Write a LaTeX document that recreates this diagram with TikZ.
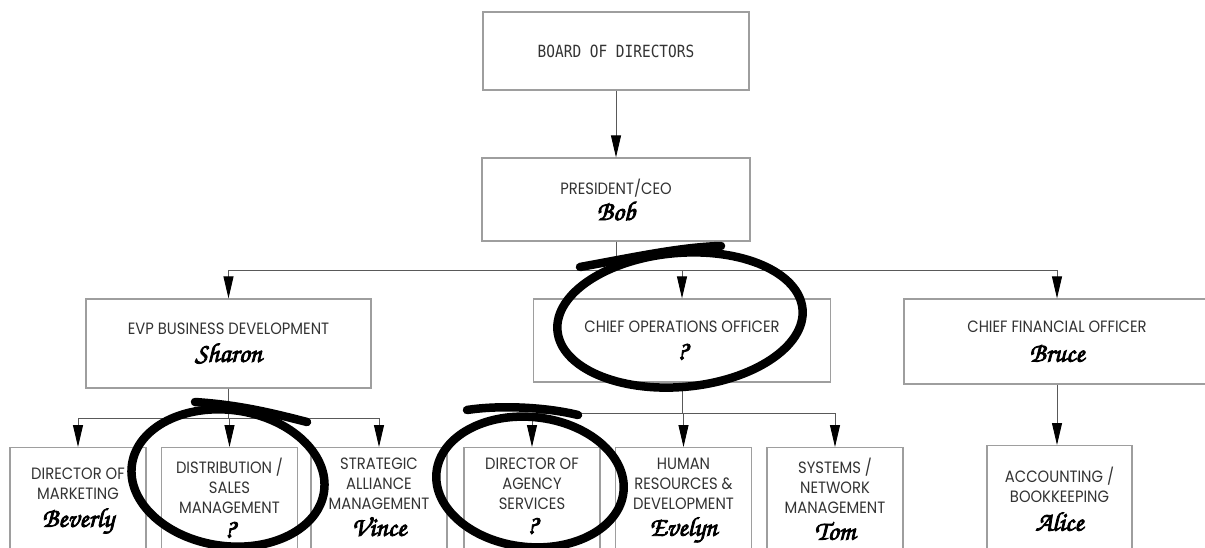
\documentclass[tikz,border=0pt]{standalone}
\usepackage[T1,TU]{fontenc}
\usepackage{fontspec}
\newfontfamily\orgfont{Poppins}[FakeStretch=0.9]
\newfontfamily\boardfont{DejaVu Sans Mono}[FakeStretch=0.86]
\newcommand{\namefont}{\fontencoding{T1}\fontfamily{pzc}\fontseries{mb}\fontshape{it}\fontsize{27}{27}\selectfont}
\usetikzlibrary{arrows.meta}
\definecolor{boxgray}{gray}{0.62}
\definecolor{linkgray}{gray}{0.35}
\definecolor{textgray}{gray}{0.2}
\tikzset{
  unit/.style={draw=boxgray, line width=1.2pt, inner sep=0pt, align=center,
    text=textgray, font=\orgfont\fontsize{16.4}{20}\selectfont},
  leaf/.style={draw=boxgray, line width=1.2pt, minimum width=136pt,
    minimum height=118pt, anchor=north},
  leaftext/.style={inner sep=0pt, anchor=north, align=center,
    text=textgray, font=\orgfont\fontsize{16.4}{20}\selectfont},
  link/.style={draw=linkgray, line width=0.9pt},
  drop/.style={link, -{Triangle[length=22pt,width=10pt,color=black]}},
  pen/.style={black, line width=8.5pt, line cap=round, line join=round},
}
% names in a heavier script: glyphs filled and outlined
\newcommand{\who}[1]{{\namefont\color{black}\special{pdf:literal direct 2 Tr 0.8 w}#1\special{pdf:literal direct 0 Tr}}}
\begin{document}
\begin{tikzpicture}[x=1pt, y=-1pt]
    \fill[white] (0,0) rectangle (1205,548);
    \clip (0,0) rectangle (1205,548);

    % Top of the chart
    \node[unit, minimum width=266pt, minimum height=78pt, font=\boardfont\fontsize{16.8}{18}\selectfont]
        (board) at (616,51) {BOARD OF DIRECTORS};
    \node[unit, minimum width=268pt, minimum height=83pt]
        (pres) at (616,199.5) {PRESIDENT/CEO\\[3pt]\who{Bob}};

    % Second level
    \node[unit, minimum width=285pt, minimum height=89pt]
        (evp) at (228.5,343.5) {EVP BUSINESS DEVELOPMENT\\[7pt]\who{Sharon}};
    \node[unit, minimum width=297pt, minimum height=83pt]
        (coo) at (682,340.5) {CHIEF OPERATIONS OFFICER\\[7pt]\who{?}};
    \node[unit, minimum width=306pt, minimum height=85pt]
        (cfo) at (1057,341.5) {CHIEF FINANCIAL OFFICER\\[9pt]\who{Bruce}};

    % Third level (boxes run off the bottom edge)
    \node[leaf] (mkt) at (78,447) {};
    \node[leaf] (dist) at (229.5,447) {};
    \node[leaf] (strat) at (379,447) {};
    \node[leaf] (agency) at (532,447) {};
    \node[leaf] (hr) at (683.5,447) {};
    \node[leaf] (sys) at (835,447) {};
    \node[leaf, minimum width=145pt] (acct) at (1059.5,445) {};

    \node[leaftext] (mkt-t) at ([yshift=-21pt]mkt.north)
        {DIRECTOR OF\\MARKETING\\[7pt]\who{Beverly}};
    \node[leaftext] (dist-t) at ([yshift=-11pt]dist.north)
        {DISTRIBUTION /\\SALES\\MANAGEMENT\\[4pt]\who{?}};
    \node[leaftext] (strat-t) at ([yshift=-11pt]strat.north)
        {STRATEGIC\\ALLIANCE\\MANAGEMENT\\[6pt]\who{Vince}};
    \node[leaftext] (agency-t) at ([yshift=-11pt]agency.north)
        {DIRECTOR OF\\AGENCY\\SERVICES\\[4pt]\who{?}};
    \node[leaftext] (hr-t) at ([yshift=-11pt]hr.north)
        {HUMAN\\RESOURCES \&\\DEVELOPMENT\\[6pt]\who{Evelyn}};
    \node[leaftext] (sys-t) at ([yshift=-11pt]sys.north)
        {SYSTEMS /\\NETWORK\\MANAGEMENT\\[6pt]\who{Tom}};
    \node[leaftext] (acct-t) at ([yshift=-22pt]acct.north)
        {ACCOUNTING /\\BOOKKEEPING\\[8pt]\who{Alice}};

    % Reporting lines
    \draw[drop] (board) -- (pres);
    \foreach \sub in {evp, coo, cfo}
        \draw[drop] (pres.south) -- ++(0,29) -| (\sub.north);
    \foreach \sub in {mkt, dist, strat}
        \draw[drop] (evp.south) -- ++(0,30) -| (\sub.north);
    \foreach \sub in {agency, hr, sys}
        \draw[drop] (coo.south) -- ++(0,31) -| (\sub.north);
    \draw[drop] (cfo.south) -- (cfo.south |- acct.north);

    % Marker circles drawn over the chart
    \draw[pen, rotate around={5:(680,320)}] (680,320) ellipse [x radius=123, y radius=67];
    \draw[pen] (580,267) .. controls (630,258) and (680,247) .. (721,246);
    \draw[pen, rotate around={-8:(228,478)}] (228,478) ellipse [x radius=97, y radius=68];
    \draw[pen] (195,402) .. controls (240,405) and (272,413) .. (307,422);
    \draw[pen, rotate around={-6:(530,482)}] (530,482) ellipse [x radius=94, y radius=65];
    \draw[pen] (467,410) .. controls (500,405) and (545,407) .. (578,415);
\end{tikzpicture}
\end{document}
